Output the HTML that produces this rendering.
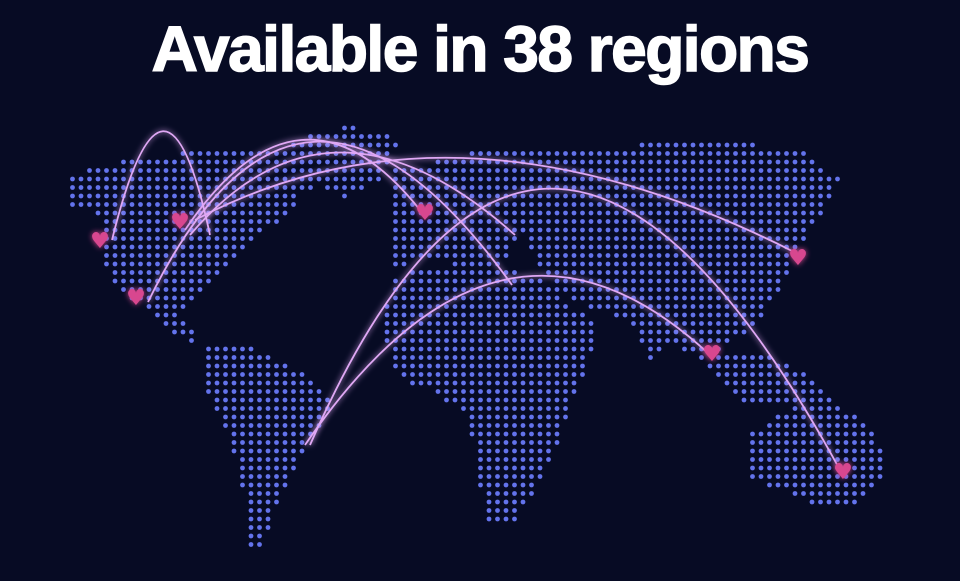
<!DOCTYPE html>
<html><head><meta charset="utf-8"><style>
html,body{margin:0;padding:0;background:#070b24;}
#wrap{position:relative;width:960px;height:581px;overflow:hidden;background:#070b24;}
h1{position:absolute;top:12px;left:0;width:960px;margin:0;text-align:center;font-family:"Liberation Sans",sans-serif;font-weight:900;font-size:64px;color:#fff;letter-spacing:-1.5px;-webkit-text-stroke:1.5px #fff;}
svg{position:absolute;left:0;top:0;}
</style></head><body>
<div id="wrap">
<h1>Available in 38 regions</h1>
<svg id="map" width="960" height="581">
<defs><filter id="glow" x="-20%" y="-20%" width="140%" height="140%"><feGaussianBlur stdDeviation="3" result="b"/><feMerge><feMergeNode in="b"/><feMergeNode in="SourceGraphic"/></feMerge></filter></defs>
<g id="dots"></g><g id="arcs"></g><g id="hearts"></g>
</svg>
</div>
<script>
const continents=[
[[68,180],[100,165],[160,155],[220,150],[270,145],[300,150],[330,160],[325,180],[300,195],[285,220],[255,235],[235,260],[215,280],[190,300],[175,315],[200,335],[190,345],[160,320],[140,305],[115,285],[100,255],[102,215],[68,205]],
[[290,140],[350,125],[400,140],[385,175],[345,200],[315,185]],
[[205,345],[240,340],[280,360],[320,385],[332,400],[312,440],[288,480],[272,520],[265,548],[250,545],[245,500],[230,440],[210,400],[200,370]],
[[395,170],[440,160],[480,150],[530,150],[545,200],[520,240],[500,265],[440,262],[395,265],[390,220]],
[[388,280],[430,265],[500,262],[550,285],[600,330],[590,360],[570,400],[560,440],[540,480],[515,520],[490,525],[475,470],[470,420],[440,395],[400,380],[385,340]],
[[520,150],[560,150],[640,145],[720,140],[800,150],[840,180],[820,215],[800,250],[780,290],[760,320],[730,345],[700,360],[670,340],[650,360],[630,320],[600,310],[560,295],[540,270],[520,230]],
[[700,360],[760,350],[800,370],[830,400],[780,405],[740,400]],
[[745,440],[780,410],[830,400],[875,430],[885,470],[860,505],[820,505],[780,490],[748,475]]
];
const arcStarts=[[112,240],[148,302],[185,230],[190,235],[195,220],[310,445],[305,445]];
const arcCtrls=[[165,25],[300,-10],[300,60],[330,70],[460,80],[540,-80],[500,160]];
const arcEnds=[[210,235],[512,285],[420,210],[515,235],[800,255],[840,470],[710,355]];
const hearts=[[100,241],[180,222],[136,298],[425,213],[798,258],[712,354],[843,472]];
const NS="http://www.w3.org/2000/svg";
function inside(p,poly){let c=false;for(let i=0,j=poly.length-1;i<poly.length;j=i++){const [xi,yi]=poly[i],[xj,yj]=poly[j];if(((yi>p[1])!=(yj>p[1]))&&(p[0]<(xj-xi)*(p[1]-yi)/(yj-yi)+xi))c=!c;}return c;}
const dg=document.getElementById('dots');
for(let y=128;y<560;y+=8.5)for(let x=64;x<892;x+=8.5){
 if(continents.some(c=>inside([x,y],c))){const d=document.createElementNS(NS,'circle');
 d.setAttribute('cx',x);d.setAttribute('cy',y);d.setAttribute('r',2.4);d.setAttribute('fill','#6373ec');
 
 
 dg.appendChild(d);}}
const ag=document.getElementById('arcs');
arcStarts.forEach((s,i)=>{const c=arcCtrls[i],e=arcEnds[i];const p=document.createElementNS(NS,'path');
 p.setAttribute('d',`M${s[0]},${s[1]} Q${c[0]},${c[1]} ${e[0]},${e[1]}`);
 p.setAttribute('fill','none');p.setAttribute('stroke','#e0a8f5');p.setAttribute('stroke-width','1.8');p.setAttribute('filter','url(#glow)');
 
 
 ag.appendChild(p);});
const hg=document.getElementById('hearts');
hearts.forEach(h=>{const t=document.createElementNS(NS,'text');
 t.setAttribute('x',h[0]);t.setAttribute('y',h[1]+7);t.setAttribute('text-anchor','middle');t.setAttribute('font-size','22');
 t.setAttribute('fill','#d8468f');t.setAttribute('filter','url(#glow)');t.setAttribute('font-family','DejaVu Sans, sans-serif');
 t.textContent='♥';
 
 
 hg.appendChild(t);});
</script>
</body></html>
